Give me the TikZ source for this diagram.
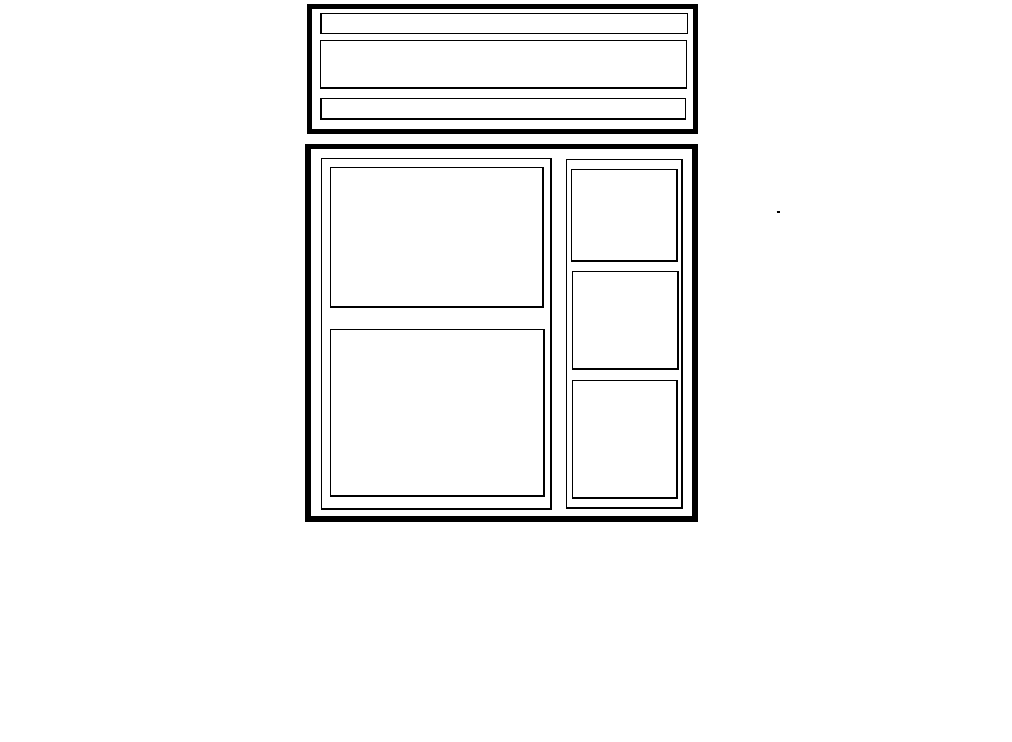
\documentclass[tikz,border=0pt]{standalone}
\usetikzlibrary{positioning}

\begin{document}
\begin{tikzpicture}[
        x=0.025cm, y=-0.025cm,
        frame/.style={draw, line width=3.8pt},
        panel/.style={draw, line width=0.75pt}
    ]
        \useasboundingbox (0,0) rectangle (1012,742);

        % header block
        \draw[frame] (309.5,6.5) rectangle (695.5,131.5);
        \draw[panel] (321,13.5) rectangle (687.5,33.5);
        \draw[panel] (320.5,40.5) rectangle (686.5,88);
        \draw[panel] (321,98.5) rectangle (685.5,119);

        % main block
        \draw[frame] (308,146.5) rectangle (695,519);
        \draw[panel] (321.5,158.5) rectangle (551,509);
        \draw[panel] (330.5,167.5) rectangle (543,307);
        \draw[panel] (330.5,329.5) rectangle (544,496);
        \draw[panel] (566.5,159.5) rectangle (682,508);
        \draw[panel] (571.5,169.5) rectangle (677,261);
        \draw[panel] (572.5,271.5) rectangle (678,369);
        \draw[panel] (572.5,380.5) rectangle (677,498);

        % stray mark
        \draw[line width=1.2pt] (776.5,212) -- (779.5,212);
    \end{tikzpicture}
\end{document}
